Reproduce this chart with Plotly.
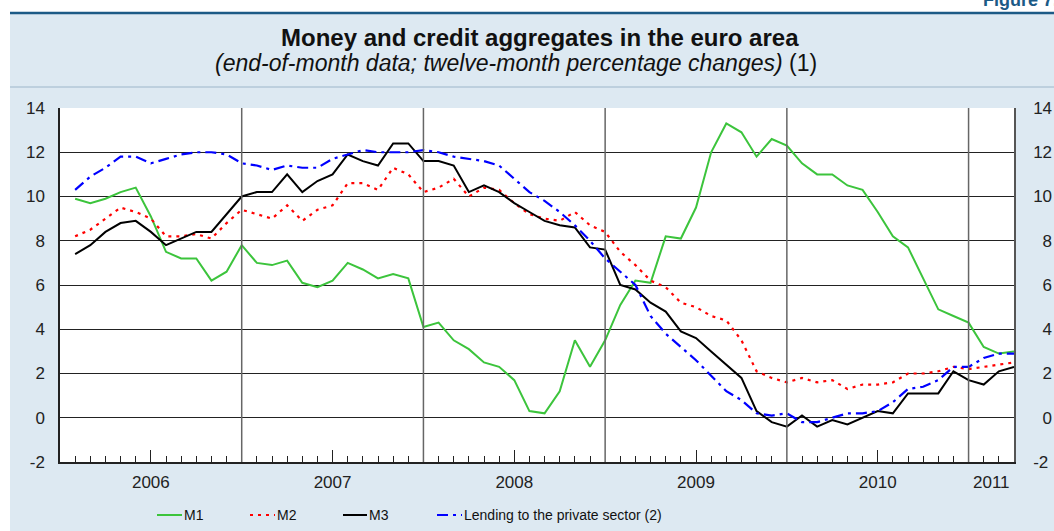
import plotly.graph_objects as go
import pandas as pd

# ---- data (end-of-month, Jan 2006 .. Mar 2011) ----
months = pd.date_range("2006-01-01", periods=63, freq="MS").strftime("%Y-%m").tolist()

m1 = [9.9, 9.7, 9.9, 10.2, 10.4, 9.1, 7.5, 7.2, 7.2, 6.2, 6.6, 7.8,
      7.0, 6.9, 7.1, 6.1, 5.9, 6.2, 7.0, 6.7, 6.3, 6.5, 6.3, 4.1,
      4.3, 3.5, 3.1, 2.5, 2.3, 1.7, 0.3, 0.2, 1.2, 3.5, 2.3, 3.5,
      5.1, 6.2, 6.1, 8.2, 8.1, 9.5, 12.0, 13.3, 12.9, 11.8, 12.6, 12.3,
      11.5, 11.0, 11.0, 10.5, 10.3, 9.3, 8.2, 7.7, 6.3, 4.9, 4.6, 4.3,
      3.2, 2.9, 3.0]

m2 = [8.2, 8.5, 9.0, 9.5, 9.3, 9.0, 8.2, 8.2, 8.3, 8.1, 8.8, 9.4,
      9.2, 9.0, 9.6, 8.9, 9.4, 9.6, 10.6, 10.6, 10.3, 11.3, 11.0, 10.2,
      10.4, 10.8, 10.0, 10.4, 10.3, 9.7, 9.2, 9.0, 8.9, 9.3, 8.7, 8.4,
      7.5, 6.9, 6.2, 5.9, 5.2, 5.0, 4.6, 4.4, 3.5, 2.1, 1.8, 1.6,
      1.8, 1.6, 1.7, 1.3, 1.5, 1.5, 1.6, 2.0, 2.0, 2.1, 2.3, 2.2,
      2.3, 2.4, 2.5]

m3 = [7.4, 7.8, 8.4, 8.8, 8.9, 8.4, 7.8, 8.1, 8.4, 8.4, 9.2, 10.0,
      10.2, 10.2, 11.0, 10.2, 10.7, 11.0, 11.9, 11.6, 11.4, 12.4, 12.4, 11.6,
      11.6, 11.4, 10.2, 10.5, 10.2, 9.7, 9.3, 8.9, 8.7, 8.6, 7.7, 7.6,
      6.0, 5.8, 5.2, 4.8, 3.9, 3.6, 3.0, 2.4, 1.8, 0.3, -0.2, -0.4,
      0.1, -0.4, -0.1, -0.3, 0.0, 0.3, 0.2, 1.1, 1.1, 1.1, 2.1, 1.7,
      1.5, 2.1, 2.3]

lending = [10.3, 10.9, 11.3, 11.8, 11.8, 11.5, 11.7, 11.9, 12.0, 12.0, 11.9, 11.5,
           11.4, 11.2, 11.4, 11.3, 11.3, 11.7, 11.9, 12.1, 12.0, 12.0, 12.0, 12.1,
           12.0, 11.8, 11.7, 11.6, 11.4, 10.8, 10.2, 9.8, 9.3, 8.7, 8.0, 7.2,
           6.6, 6.0, 4.6, 3.8, 3.2, 2.6, 1.9, 1.2, 0.8, 0.2, 0.1, 0.2,
           -0.2, -0.2, 0.0, 0.2, 0.2, 0.3, 0.7, 1.3, 1.4, 1.7, 2.3, 2.3,
           2.7, 2.9, 2.9]

year_labels = ["2006", "2007", "2008", "2009", "2010", "2011"]
y_ticks = [-2, 0, 2, 4, 6, 8, 10, 12, 14]
y_left_text = ["-2", "0", "2", "4", "6", "8", "10", "12", "14"]
y_right_text = ["-2", "\u20070", "\u20072", "\u20074", "\u20076", "\u20078", "10", "12", "14"]

x = list(range(1, len(months) + 1))  # month index, Jan 2006 = 1

# ---- layout geometry helpers (pixels -> paper) ----
W, H = 1054, 531
L, R, T, B = 60, 1014, 108, 462


def px(xp):
    return (xp - L) / (R - L)


def py(yp):
    return (B - yp) / (B - T)


FONT = "Liberation Sans, Arial, Helvetica, sans-serif"
NARROW = "Liberation Sans Narrow, Arial Narrow, Liberation Sans, Arial, sans-serif"
PANEL = "#dde9f2"

fig = go.Figure()

series = [
    ("M1", m1, dict(color="#3cc43c", width=2, dash="solid")),
    ("M2", m2, dict(color="#ff0000", width=2.2, dash="3px,5px")),
    ("M3", m3, dict(color="#000000", width=2, dash="solid")),
    ("Lending to the private sector (2)", lending,
     dict(color="#0000ff", width=2.2, dash="11px,5px,3px,5px")),
]
for name, vals, ln in series:
    fig.add_trace(go.Scatter(x=x, y=vals, mode="lines", name=name, line=ln,
                             showlegend=False, customdata=months,
                             hovertemplate="%{customdata}: %{y}<extra>" + name + "</extra>"))

# invisible trace so the right-hand axis is drawn
fig.add_trace(go.Scatter(x=[x[0]], y=[m1[0]], yaxis="y2", xaxis="x2", mode="markers",
                         marker=dict(opacity=0), showlegend=False, hoverinfo="skip"))

shapes = []
# white strips around the blue panel
shapes.append(dict(type="rect", xref="paper", yref="paper", x0=px(-5), x1=px(10),
                   y0=py(540), y1=py(-5), fillcolor="white", line=dict(width=0), layer="below"))
shapes.append(dict(type="rect", xref="paper", yref="paper", x0=px(-5), x1=px(1060),
                   y0=py(12), y1=py(-5), fillcolor="white", line=dict(width=0), layer="below"))
# dark blue rule at top
shapes.append(dict(type="line", xref="paper", yref="paper", x0=px(10), x1=px(1060),
                   y0=py(13), y1=py(13), line=dict(color="#1c5a86", width=2.5), layer="below"))
# separator under titles
shapes.append(dict(type="line", xref="paper", yref="paper", x0=px(10), x1=px(1060),
                   y0=py(87), y1=py(87), line=dict(color="#9db6ca", width=1), layer="below"))
# year separators
for xv in [12, 24, 36, 48, 60]:
    shapes.append(dict(type="line", xref="x", yref="paper", x0=xv, x1=xv, y0=0, y1=1,
                       line=dict(color="#666666", width=1.5)))

# custom legend
leg_y = 515
legend_items = [
    (157, 182, "M1", series[0][2]),
    (250, 275, "M2", series[1][2]),
    (343, 367, "M3", series[2][2]),
    (437, 462, "Lending to the private sector (2)", series[3][2]),
]
annotations = []
for x0, x1, label, ln in legend_items:
    shapes.append(dict(type="line", xref="paper", yref="paper", x0=px(x0), x1=px(x1),
                       y0=py(leg_y), y1=py(leg_y),
                       line=dict(color=ln["color"], width=ln["width"], dash=ln["dash"])))
    annotations.append(dict(xref="paper", yref="paper", x=px(x1), y=py(leg_y),
                            xanchor="left", yanchor="middle", showarrow=False,
                            text=label, font=dict(family=NARROW, size=14, color="#111")))

# titles
annotations.append(dict(xref="paper", yref="paper", x=px(540), y=py(38), xanchor="center",
                        yanchor="middle", showarrow=False,
                        text="<b>Money and credit aggregates in the euro area</b>",
                        font=dict(family=FONT, size=24, color="#111")))
annotations.append(dict(xref="paper", yref="paper", x=px(516), y=py(63), xanchor="center",
                        yanchor="middle", showarrow=False,
                        text="<i>(end-of-month data; twelve-month percentage changes)</i> (1)",
                        font=dict(family=FONT, size=23, color="#111")))
annotations.append(dict(xref="paper", yref="paper", x=px(1060), y=py(12), xanchor="right",
                        yanchor="bottom", showarrow=False, text="<b>Figure 7.</b>",
                        font=dict(family=FONT, size=18, color="#1c5a86")))

minor_vals = [6, 18, 30, 42, 54]
month_ticks = [v for v in x if v not in minor_vals and v % 12 != 0]

fig.update_layout(
    template="none",
    width=W, height=H, autosize=False,
    margin=dict(l=L, r=W - R, t=T, b=H - B, pad=0, autoexpand=False),
    paper_bgcolor=PANEL, plot_bgcolor="white",
    font=dict(family=FONT, size=17, color="#222"),
    showlegend=False,
    shapes=shapes, annotations=annotations,
    xaxis=dict(range=[0, 63], tickvals=month_ticks, ticks="inside", ticklen=6,
               tickcolor="#222", tickwidth=1, showticklabels=False, showgrid=False,
               zeroline=False, showline=True, linecolor="#222", linewidth=1.5,
               mirror=False, automargin=False,
               minor=dict(tickvals=minor_vals, ticks="inside", ticklen=12,
                          tickcolor="#222", tickwidth=1, showgrid=False)),
    xaxis2=dict(range=[0, 63], overlaying="x", side="bottom", anchor="y",
                tickvals=[6, 18, 30, 42, 54, 61.5], ticktext=year_labels, ticks="",
                showgrid=False, zeroline=False, showline=False, automargin=False,
                tickfont=dict(family=FONT, size=17, color="#222"), ticklabelstandoff=8),
    yaxis=dict(range=[-2, 14], tickvals=y_ticks, ticktext=y_left_text, ticks="",
               showgrid=True, gridcolor="#222", gridwidth=1, zeroline=False, showline=True,
               linecolor="#222", linewidth=1.5, mirror=False, ticklabelstandoff=10,
               automargin=False, tickfont=dict(family=FONT, size=17, color="#222")),
    yaxis2=dict(range=[-2, 14], overlaying="y", side="right", anchor="x",
                tickvals=y_ticks, ticktext=y_right_text,
                ticks="", showgrid=False, zeroline=False, showline=True,
                linecolor="#555", linewidth=1.5, ticklabelstandoff=14, automargin=False,
                tickfont=dict(family=FONT, size=17, color="#222")),
)

post = ("document.body.style.margin='0';document.body.style.overflow='hidden';"
        "var gd=document.getElementById('{plot_id}');"
        "if(gd){Plotly.relayout(gd,{width:1054,height:531});}")

fig.write_html("out.html", config={"responsive": False, "displayModeBar": False},
               post_script=post)
